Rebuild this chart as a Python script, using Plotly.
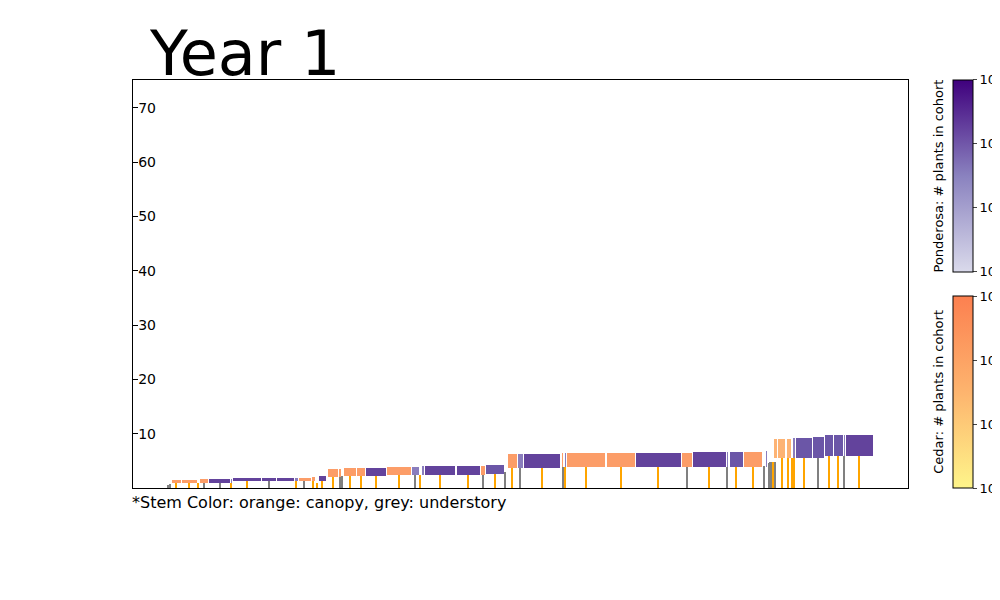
import plotly.graph_objects as go

# crowns: left, right (x units), bottom, top (height), colour class
crown_left = [39, 49, 67, 76, 98, 100, 129, 144, 162, 166, 179, 186, 195, 206, 211, 224, 233, 254, 279, 289,
              292, 324, 348, 353, 375, 385, 391, 429, 432, 434, 474, 503, 549, 560, 594, 597, 611, 633, 641, 645,
              654, 660, 663, 680, 692, 701, 711, 713]
crown_right = [48, 64, 75, 97, 99, 128, 143, 161, 165, 178, 182, 193, 205, 208, 223, 232, 253, 278, 286, 291,
               322, 347, 352, 371, 384, 390, 427, 430, 433, 472, 502, 548, 559, 593, 595, 610, 629, 634, 644, 652,
               658, 662, 679, 691, 700, 710, 712, 740]
crown_bot = [1.0, 1.0, 1.0, 1.0, 1.0, 1.2, 1.2, 1.2, 1.2, 1.2, 1.2, 1.35, 2.1, 2.1, 2.3, 2.3, 2.3, 2.45, 2.45, 2.45,
             2.45, 2.45, 2.45, 2.6, 3.7, 3.7, 3.7, 3.9, 3.9, 3.9, 3.9, 3.9, 3.9, 3.9, 3.9, 3.9, 3.9, 3.9, 5.5, 5.5,
             5.5, 5.5, 5.5, 5.5, 5.9, 5.9, 5.9, 5.9]
crown_top = [1.5, 1.5, 1.6, 1.6, 1.6, 1.8, 1.8, 1.8, 1.8, 1.8, 2.0, 2.2, 3.5, 3.5, 3.7, 3.7, 3.7, 3.9, 3.9, 4.05,
             4.05, 4.05, 4.05, 4.2, 6.3, 6.3, 6.3, 6.45, 6.45, 6.45, 6.45, 6.45, 6.45, 6.6, 6.6, 6.6, 6.6, 6.8, 9.0, 9.0,
             9.0, 9.2, 9.2, 9.4, 9.8, 9.8, 9.8, 9.8]
crown_cls = ["O", "O", "O", "P", "PL", "P", "P", "P", "PL", "O", "O", "P", "O", "O", "O", "O", "P", "O", "PL", "PL",
             "P", "P", "O", "PM", "O", "PL", "P", "O", "PL", "O", "O", "P", "O", "P", "PL", "PM", "O", "PL", "OL", "OL",
             "OL", "PL", "PM", "PM", "PM", "PM", "PL", "P"]

# stems: x, height, canopy(o)/understory(g), width
stem_x = [35, 37, 43, 56, 65, 71, 87, 98, 114, 136, 163, 171, 180, 184, 189, 200, 207, 209, 217, 228, 243, 266,
          282, 287, 307, 335, 350, 362, 372, 379, 387, 409, 430, 432, 453, 488, 525, 554, 576, 594, 603, 620, 631,
          636, 637, 639, 640, 642, 649, 655, 659, 661, 671, 685, 696, 705, 711, 726]
stem_h = [0.5, 0.8, 1.0, 1.0, 1.0, 1.0, 1.0, 1.0, 1.2, 1.2, 1.2, 1.2, 1.2, 1.0, 1.35, 2.1, 2.1, 2.3, 2.3, 2.3, 2.3,
          2.45, 2.45, 2.45, 2.45, 2.45, 2.45, 2.6, 2.9, 3.7, 3.7, 3.7, 3.9, 3.9, 3.9, 3.9, 3.9, 3.9, 3.9, 3.9, 3.9,
          3.9, 4.0, 4.6, 4.7, 4.7, 4.7, 4.7, 5.5, 5.5, 5.5, 5.5, 5.5, 5.5, 5.9, 5.9, 5.9, 5.9]
stem_c = ["g", "g", "o", "o", "o", "g", "g", "o", "o", "g", "o", "g", "o", "o", "o", "o", "g", "g", "o", "o", "o", "o",
          "g", "o", "o", "o", "g", "o", "g", "o", "g", "o", "g", "o", "o", "o", "o", "g", "o", "g", "o", "o", "g",
          "g", "g", "g", "o", "g", "o", "o", "o", "o", "o", "g", "o", "o", "g", "o"]
stem_w = [1, 1, 1, 1, 1, 1, 1, 1, 1, 1, 1, 1, 1, 2, 1, 1.5, 1, 1, 1, 1, 1, 1, 1, 1, 1, 1, 1, 1, 2, 1, 1, 1, 1, 2,
          1, 1, 1, 1.5, 1, 1, 1, 1, 1, 1, 1, 1, 1.5, 1, 1, 1, 2, 1, 1, 1, 1, 1.5, 1, 1]

cls_color = {"P": "#63439c", "PM": "#6b56a7", "PL": "#8a7dbd", "O": "#fc9d68", "OL": "#fdb374"}
stem_color = {"o": "#ffa500", "g": "#808080"}

fig = go.Figure()

fig.add_trace(go.Bar(
    x=stem_x, y=stem_h, base=0, width=stem_w,
    marker=dict(color=[stem_color[c] for c in stem_c], line_width=0),
    showlegend=False, hoverinfo="skip"))

fig.add_trace(go.Bar(
    x=[(l + r) / 2 for l, r in zip(crown_left, crown_right)],
    y=[t - b for b, t in zip(crown_bot, crown_top)],
    base=crown_bot,
    width=[r - l for l, r in zip(crown_left, crown_right)],
    marker=dict(color=[cls_color[c] for c in crown_cls], line_width=0),
    showlegend=False))

cb_ticks = dict(tickvals=[0, 2, 4, 6], ticktext=["10<sup>0</sup>", "10<sup>2</sup>", "10<sup>4</sup>", "10<sup>6</sup>"],
                ticks="outside", ticklen=4, outlinewidth=1, outlinecolor="black", thickness=20,
                len=192 / 408, lenmode="fraction", x=1.058, xanchor="left", xpad=0, ypad=0,
                tickfont=dict(size=13, color="black"))
fig.add_trace(go.Scatter(
    x=[None], y=[None], mode="markers", showlegend=False,
    marker=dict(color=[0], cmin=0, cmax=6,
                colorscale=[[0, "#dadaeb"], [0.5, "#8a82bf"], [1, "#3f007d"]],
                colorbar=dict(y=0.765, yanchor="middle", **cb_ticks))))
fig.add_trace(go.Scatter(
    x=[None], y=[None], mode="markers", showlegend=False,
    marker=dict(color=[0], cmin=0, cmax=6,
                colorscale=[[0, "#fef58a"], [0.5, "#fdb46e"], [1, "#fc8050"]],
                colorbar=dict(y=0.235, yanchor="middle", **cb_ticks))))

fig.update_layout(
    width=1000, height=600,
    margin=dict(l=125, r=100, t=72, b=120, autoexpand=False),
    plot_bgcolor="white", paper_bgcolor="white",
    font=dict(family="DejaVu Sans", color="black"),
    barmode="overlay", bargap=0,
    xaxis=dict(range=[0, 775], showticklabels=False, ticks="", showgrid=False, zeroline=False,
               showline=True, linecolor="black", mirror=True),
    yaxis=dict(range=[0, 75.1], tickvals=[10, 20, 30, 40, 50, 60, 70], ticks="inside", ticklen=5,
               tickcolor="black", ticklabelposition="inside", showgrid=False, zeroline=False,
               tickfont=dict(size=14, color="black"),
               showline=True, linecolor="black", mirror=True),
    annotations=[
        dict(text="Year 1", xref="paper", yref="paper", x=0.018, y=1.16, xanchor="left", yanchor="top",
             showarrow=False, font=dict(size=62)),
        dict(text="*Stem Color: orange: canopy, grey: understory", xref="paper", yref="paper", x=-0.004, y=-0.008,
             xanchor="left", yanchor="top", showarrow=False, font=dict(size=16)),
        dict(text="Ponderosa: # plants in cohort", xref="paper", yref="paper", x=1.0395, y=0.765,
             xanchor="center", yanchor="middle", textangle=-90, showarrow=False, font=dict(size=13)),
        dict(text="Cedar: # plants in cohort", xref="paper", yref="paper", x=1.0395, y=0.235,
             xanchor="center", yanchor="middle", textangle=-90, showarrow=False, font=dict(size=13)),
    ])

fig.write_html("out.html")
